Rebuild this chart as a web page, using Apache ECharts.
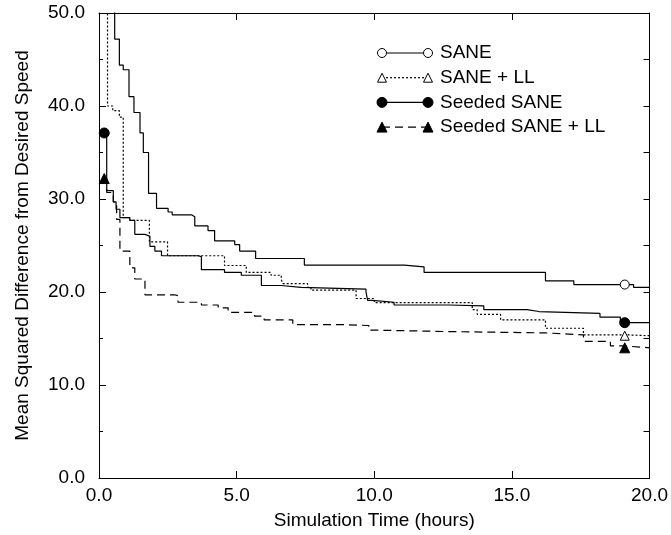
<!DOCTYPE html>
<html>
<head>
<meta charset="utf-8">
<script src="https://cdn.jsdelivr.net/npm/echarts@6/dist/echarts.min.js"></script>
<style>
  html, body { margin: 0; padding: 0; background: #fff; }
  #chart { width: 671px; height: 535px; }
</style>
</head>
<body>
<div id="chart"></div>
<script>
// ---- Data (hours, mean squared difference) ----
const seriesNames = ['SANE', 'SANE + LL', 'Seeded SANE', 'Seeded SANE + LL'];

const sane = [[0,80],[0.57,47.2],[0.74,44.4],[0.88,43.9],[1.09,41.0],[1.27,39.3],[1.49,37.1],[1.61,35.0],[1.8,30.6],[2.09,29.0],[2.51,28.6],[2.66,28.3],[3.36,28.1],[3.48,27.1],[3.96,26.6],[4.2,25.5],[4.93,25.1],[5.11,24.4],[5.69,23.6],[7.46,22.9],[11.09,22.7],[11.81,22.1],[16.22,21.2],[17.25,20.8],[19.42,20.5],[20.0,20.4]];

const saneLL = [[0,80],[0.31,40.0],[0.5,39.5],[0.74,38.8],[0.88,28.0],[1.12,27.7],[1.83,25.4],[2.49,23.9],[4.56,22.85],[5.35,22.1],[6.25,21.8],[6.62,21.35],[6.68,20.9],[7.58,20.5],[7.7,20.2],[9.34,19.3],[10.0,18.85],[13.56,18.1],[13.74,17.6],[14.59,17.0],[16.22,16.1],[17.6,15.4],[19.1,15.3],[20.0,15.3]];

const seeded = [[0.19,37.1],[0.28,30.9],[0.52,29.7],[0.62,28.9],[0.76,28.0],[1.12,27.7],[1.3,26.2],[1.67,26.0],[1.85,24.9],[2.03,24.4],[2.27,23.9],[3.6,23.8],[3.72,22.4],[4.56,22.1],[5.17,21.8],[5.9,20.7],[6.62,20.5],[7.34,20.3],[9.7,20.0],[9.76,19.1],[9.93,18.9],[10.72,18.6],[12.7,18.5],[13.98,18.1],[15.55,17.9],[15.98,17.7],[18.2,17.3],[18.94,16.7],[20.0,16.6]];

const seededLL = [[0.19,32.2],[0.28,30.7],[0.52,29.7],[0.64,27.8],[0.76,24.4],[1.12,22.6],[1.3,21.4],[1.67,19.7],[2.75,19.6],[2.87,18.9],[3.72,18.6],[4.33,18.3],[4.69,17.8],[5.65,17.4],[6.0,17.0],[7.04,16.5],[8.7,16.4],[9.8,15.9],[10.05,15.75],[12.6,15.6],[16.22,15.4],[17.6,14.7],[18.58,14.2],[19.1,14.0],[20.0,14.0]];

// marker positions drawn on the curves
const saneMarks = [[19.1, 20.8]];
const saneLLMarks = [[19.1, 15.3]];
const seededMarks = [[0.19, 37.1], [19.1, 16.7]];
const seededLLMarks = [[0.19, 32.2], [19.1, 14.0]];

// axis ranges / ticks
const xMin = 0, xMax = 20, xStep = 5;
const yMin = 0, yMax = 50, yStep = 10;

// ---- Styles ----
const FONT = '"Liberation Sans", Arial, Helvetica, sans-serif';
const FS = 19;
const lineStyles = [
  { type: 'solid' },
  { type: [2, 2] },
  { type: 'solid' },
  { type: [8, 5] }
];
const markStyles = [
  { symbol: 'circle', size: 9, fill: '#fff' },
  { symbol: 'triangle', size: 9, fill: '#fff' },
  { symbol: 'circle', size: 10, fill: '#000' },
  { symbol: 'triangle', size: 10, fill: '#000' }
];
const curves = [sane, saneLL, seeded, seededLL];
const marks = [saneMarks, saneLLMarks, seededMarks, seededLLMarks];

const series = [];
curves.forEach((d, i) => {
  series.push({
    type: 'line', name: seriesNames[i], data: d, step: 'end',
    showSymbol: false, symbol: 'none', clip: true, silent: true,
    lineStyle: { color: '#000', width: 1.2, type: lineStyles[i].type },
    z: 2
  });
});
marks.forEach((d, i) => {
  series.push({
    type: 'scatter', name: seriesNames[i] + ' marks', data: d, clip: true, silent: true,
    symbol: markStyles[i].symbol, symbolSize: markStyles[i].size,
    itemStyle: { color: markStyles[i].fill, borderColor: '#000', borderWidth: 1, opacity: 1 },
    z: 3
  });
});

// ---- Legend (drawn as graphic keys) ----
const legX1 = 382, legX2 = 428, legTextX = 440, legY0 = 53, legDY = 24.7;
const graphics = [];
seriesNames.forEach((name, i) => {
  const y = legY0 + i * legDY;
  graphics.push({
    type: 'line', shape: { x1: legX1, y1: y, x2: legX2, y2: y },
    style: { stroke: '#000', lineWidth: 1.2, lineDash: lineStyles[i].type === 'solid' ? null : lineStyles[i].type }
  });
  [legX1, legX2].forEach(cx => {
    const ms = markStyles[i];
    if (ms.symbol === 'circle') {
      graphics.push({ type: 'circle', shape: { cx: cx, cy: y, r: ms.size / 2 },
        style: { fill: ms.fill, stroke: '#000', lineWidth: 1 }, z: 10 });
    } else {
      const h = ms.size;
      graphics.push({ type: 'polygon',
        shape: { points: [[cx, y - h / 2], [cx + h / 2, y + h / 2], [cx - h / 2, y + h / 2]] },
        style: { fill: ms.fill, stroke: '#000', lineWidth: 1 }, z: 10 });
    }
  });
  graphics.push({ type: 'text', x: legTextX, y: y,
    style: { text: name, fill: '#000', font: FS + 'px ' + FONT, verticalAlign: 'middle', align: 'left' } });
});

const fmt = v => v.toFixed(1);
const axisLine = { show: true, onZero: false, lineStyle: { color: '#000', width: 1 } };

const option = {
  animation: false,
  backgroundColor: '#fff',
  grid: { left: 99, right: 20, top: 13, bottom: 56 },
  xAxis: [
    {
      type: 'value', min: xMin, max: xMax, interval: xStep, position: 'bottom',
      name: 'Simulation Time (hours)', nameLocation: 'middle', nameGap: 33,
      nameTextStyle: { color: '#000', fontSize: FS, fontFamily: FONT },
      axisLine: axisLine,
      axisTick: { show: true, inside: true, length: 7, lineStyle: { color: '#000' } },
      axisLabel: { color: '#000', fontSize: FS, fontFamily: FONT, margin: 8, formatter: fmt },
      splitLine: { show: false }
    },
    {
      type: 'value', min: xMin, max: xMax, interval: xStep, position: 'top',
      axisLine: axisLine,
      axisTick: { show: true, inside: true, length: 7, lineStyle: { color: '#000' } },
      axisLabel: { show: false }, splitLine: { show: false }
    }
  ],
  yAxis: [
    {
      type: 'value', min: yMin, max: yMax, interval: yStep, position: 'left',
      name: 'Mean Squared Difference from Desired Speed', nameLocation: 'middle', nameGap: 67,
      nameTextStyle: { color: '#000', fontSize: FS, fontFamily: FONT },
      axisLine: axisLine,
      axisTick: { show: true, inside: true, length: 7, lineStyle: { color: '#000' } },
      minorTick: { show: true, splitNumber: 2, length: 4, lineStyle: { color: '#000' } },
      axisLabel: { color: '#000', fontSize: FS, fontFamily: FONT, margin: 14, formatter: fmt },
      splitLine: { show: false }
    },
    {
      type: 'value', min: yMin, max: yMax, interval: yStep, position: 'right',
      axisLine: axisLine,
      axisTick: { show: true, inside: true, length: 6, lineStyle: { color: '#000' } },
      minorTick: { show: true, splitNumber: 2, length: 6, lineStyle: { color: '#000' } },
      axisLabel: { show: false }, splitLine: { show: false }
    }
  ],
  series: series,
  graphic: graphics
};

const chart = echarts.init(document.getElementById('chart'), null, { renderer: 'canvas' });
chart.setOption(option);
</script>
</body>
</html>
